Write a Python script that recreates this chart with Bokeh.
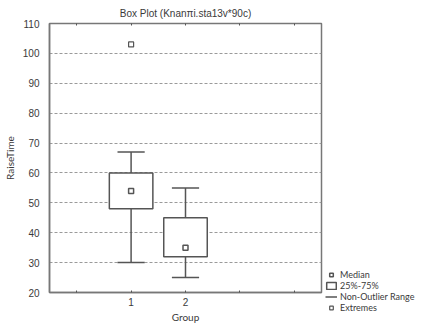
from bokeh.plotting import figure
from bokeh.models import (FixedTicker, LinearAxis, Legend, LegendItem, Range1d,
                          ColumnDataSource)
from bokeh.embed import file_html
from bokeh.resources import INLINE

# ---- data ----
groups = [1, 2]
q1 = [48, 32]
q3 = [60, 45]
medians = [54, 35]
whisker_low = [30, 25]
whisker_high = [67, 55]
extreme_x = [1]
extreme_y = [103]
y_ticks = [20, 30, 40, 50, 60, 70, 80, 90, 100, 110]
x_ticks = [0, 1, 2, 3, 4]
x_labels = {0: "", 1: "1", 2: "2", 3: "", 4: ""}

BOX_W = 0.8
CAP_W = 0.5
LINE = "#555555"
TEXT = "#3a3a3a"
FW, FH = 272, 269

src = ColumnDataSource(dict(
    x=groups, q1=q1, q3=q3, med=medians, lo=whisker_low, hi=whisker_high,
    left=[g - BOX_W / 2 for g in groups], right=[g + BOX_W / 2 for g in groups],
    cl=[g - CAP_W / 2 for g in groups], cr=[g + CAP_W / 2 for g in groups],
))

p = figure(frame_width=FW, frame_height=FH, output_backend="svg", toolbar_location=None,
           x_range=Range1d(-0.5, 4.5), y_range=Range1d(20, 110),
           title="Box Plot (Knanπi.sta13v*90c)",
           min_border_left=0, min_border_right=0, min_border_top=0, min_border_bottom=0)

p.title.align = "center"
p.title.text_font = "Liberation Sans"
p.title.text_font_size = "10px"
p.title.text_font_style = "normal"
p.title.text_color = TEXT
p.title.offset = 0

p.background_fill_color = "white"
p.border_fill_color = "white"
p.outline_line_color = "#777777"
p.outline_line_width = 1.5

# grid
p.xgrid.visible = False
p.ygrid.ticker = FixedTicker(ticks=y_ticks[1:-1])
p.ygrid.grid_line_color = "#9a9a9a"
p.ygrid.grid_line_dash = "3 2"
p.ygrid.grid_line_width = 1

# axes
p.yaxis.ticker = FixedTicker(ticks=y_ticks)
p.yaxis.axis_label = "RaiseTime"
p.xaxis.ticker = FixedTicker(ticks=x_ticks)
p.xaxis.major_label_overrides = x_labels
p.xaxis.axis_label = "Group"
for ax in (p.xaxis[0], p.yaxis[0]):
    ax.axis_line_color = "#777777"
    ax.axis_line_width = 1.5
    ax.major_label_text_font = "Liberation Sans"
    ax.major_label_text_font_size = "10px"
    ax.major_label_text_color = TEXT
    ax.axis_label_text_font = "Lato"
    ax.axis_label_text_font_size = "10px"
    ax.axis_label_text_font_style = "normal"
    ax.axis_label_text_color = TEXT
    ax.minor_tick_line_color = None
    ax.axis_label_standoff = 4
    ax.major_label_standoff = 4
p.yaxis.major_tick_line_color = None
p.xaxis.major_tick_in = 2
p.xaxis.major_tick_out = 0
p.xaxis.major_tick_line_color = "#555555"
p.xaxis.major_label_standoff = 5
p.xaxis.axis_label_standoff = 2

top = LinearAxis(ticker=FixedTicker(ticks=x_ticks), major_label_text_font_size="0px",
                 major_tick_in=2, major_tick_out=0, minor_tick_line_color=None,
                 axis_line_color=None, major_tick_line_color="#555555",
                 major_label_standoff=0)
top.major_label_overrides = {t: "" for t in x_ticks}
p.add_layout(top, "above")

# whiskers
p.segment(x0="x", y0="lo", x1="x", y1="q1", source=src, line_color=LINE, line_width=1.5)
p.segment(x0="x", y0="q3", x1="x", y1="hi", source=src, line_color=LINE, line_width=1.5)
p.segment(x0="cl", y0="hi", x1="cr", y1="hi", source=src, line_color=LINE, line_width=1.5)
caps = p.segment(x0="cl", y0="lo", x1="cr", y1="lo", source=src, line_color=LINE, line_width=1.5)
# boxes
boxes = p.quad(left="left", right="right", bottom="q1", top="q3", source=src,
               fill_color="white", line_color=LINE, line_width=1.5)
meds = p.scatter(x="x", y="med", source=src, marker="square", size=5,
                 fill_color="white", line_color=LINE, line_width=1.5)
ext = p.scatter(x=extreme_x, y=extreme_y, marker="square", size=5,
                fill_color="white", line_color=LINE, line_width=1.2)

legend = Legend(items=[
    LegendItem(label="Median", renderers=[meds]),
    LegendItem(label="25%-75%", renderers=[boxes]),
    LegendItem(label="Non-Outlier Range", renderers=[caps]),
    LegendItem(label="Extremes", renderers=[ext]),
], location=(4, -21), orientation="vertical")
legend.label_text_font = "Lato"
legend.label_text_font_size = "9px"
legend.label_text_color = TEXT
legend.label_height = 9
legend.glyph_height = 9
legend.glyph_width = 12
legend.label_standoff = 3
legend.spacing = 0
legend.padding = 0
legend.margin = 0
legend.border_line_color = None
legend.background_fill_alpha = 0
p.add_layout(legend, "right")

open("out.html", "w").write(file_html(p, INLINE))
